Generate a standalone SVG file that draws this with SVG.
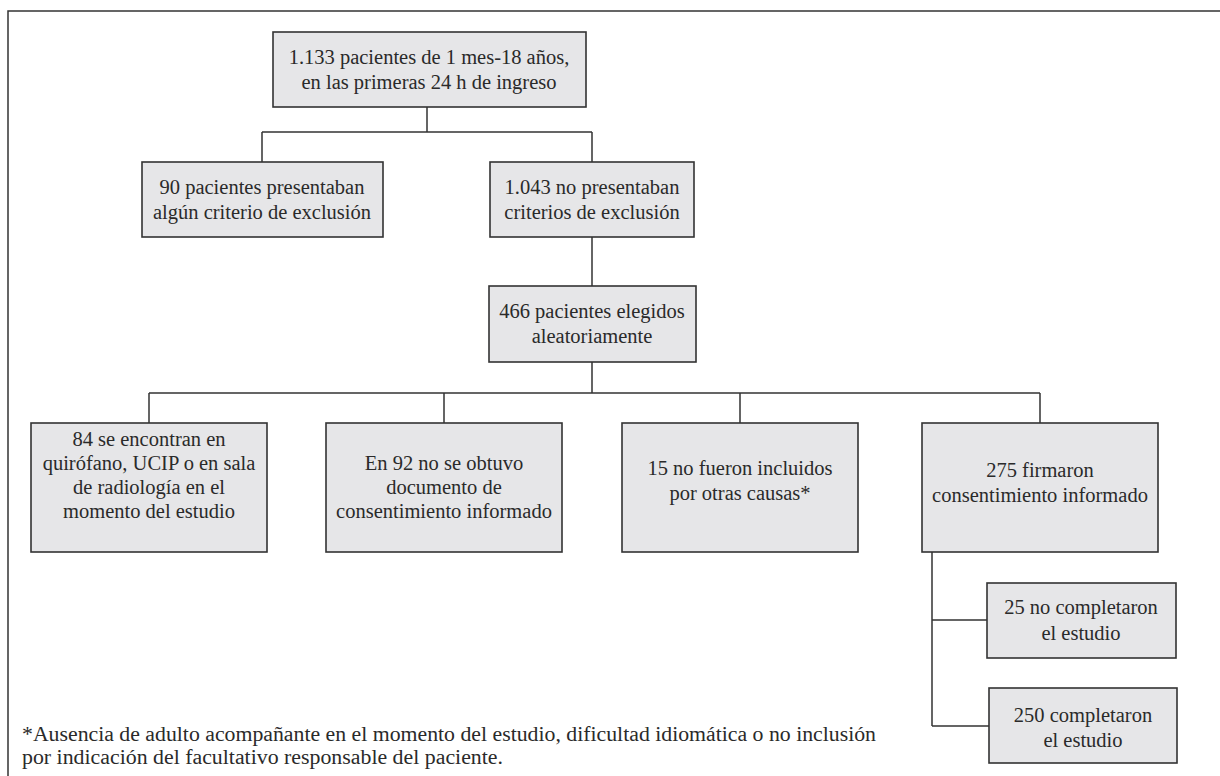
<svg xmlns="http://www.w3.org/2000/svg" width="1220" height="776" viewBox="0 0 1220 776">
<style>
.box{fill:#e6e6e8;stroke:#333;stroke-width:1.6}
.t{font-family:"Liberation Serif","Times New Roman",serif;font-size:20.5px;fill:#2a2a2a;text-anchor:middle}
.fn{font-family:"Liberation Serif","Times New Roman",serif;font-size:20.5px;fill:#2a2a2a}
.c{fill:none;stroke:#333;stroke-width:1.5}
</style>
<rect width="1220" height="776" fill="#fff"/>
<path d="M8,776 V11 H1220" fill="none" stroke="#333" stroke-width="1.5"/>
<g id="connectors">
<path class="c" d="M427,107 V132 M262,132 H592 M262,132 V162 M592,132 V162"/>
<path class="c" d="M592,237 V286"/>
<path class="c" d="M592,362 V393 M149,393 H1040 M149,393 V423 M444,393 V423 M740,393 V423 M1040,393 V423"/>
<path class="c" d="M932,552 V726 M932,620 H987 M932,726 H989"/>
</g>
<g id="n1"><rect class="box" x="273" y="32" width="313" height="75"/>
<text class="t" x="429" y="64">1.133 pacientes de 1 mes-18 años,</text>
<text class="t" x="429" y="89">en las primeras 24 h de ingreso</text></g>
<g id="n2"><rect class="box" x="142" y="162" width="241" height="75"/>
<text class="t" x="262" y="194">90 pacientes presentaban</text>
<text class="t" x="262" y="219">algún criterio de exclusión</text></g>
<g id="n3"><rect class="box" x="490" y="162" width="204" height="75"/>
<text class="t" x="592" y="194">1.043 no presentaban</text>
<text class="t" x="592" y="219">criterios de exclusión</text></g>
<g id="n4"><rect class="box" x="489" y="286" width="207" height="76"/>
<text class="t" x="592" y="318">466 pacientes elegidos</text>
<text class="t" x="592" y="343">aleatoriamente</text></g>
<g id="n5"><rect class="box" x="31" y="423" width="236" height="129"/>
<text class="t" x="149" y="446">84 se encontran en</text>
<text class="t" x="149" y="470">quirófano, UCIP o en sala</text>
<text class="t" x="149" y="494">de radiología en el</text>
<text class="t" x="149" y="518">momento del estudio</text></g>
<g id="n6"><rect class="box" x="326" y="423" width="236" height="129"/>
<text class="t" x="444" y="470">En 92 no se obtuvo</text>
<text class="t" x="444" y="494">documento de</text>
<text class="t" x="444" y="518">consentimiento informado</text></g>
<g id="n7"><rect class="box" x="622" y="423" width="236" height="129"/>
<text class="t" x="740" y="475">15 no fueron incluidos</text>
<text class="t" x="740" y="500">por otras causas*</text></g>
<g id="n8"><rect class="box" x="922" y="423" width="236" height="129"/>
<text class="t" x="1040" y="477">275 firmaron</text>
<text class="t" x="1040" y="502">consentimiento informado</text></g>
<g id="n9"><rect class="box" x="987" y="583" width="189" height="75"/>
<text class="t" x="1081" y="614">25 no completaron</text>
<text class="t" x="1081" y="640">el estudio</text></g>
<g id="n10"><rect class="box" x="989" y="688" width="188" height="75"/>
<text class="t" x="1083" y="722">250 completaron</text>
<text class="t" x="1083" y="747">el estudio</text></g>
<g id="footnote">
<text class="fn" x="22" y="741" textLength="854" lengthAdjust="spacingAndGlyphs">*Ausencia de adulto acompañante en el momento del estudio, dificultad idiomática o no inclusión</text>
<text class="fn" x="22" y="764" textLength="481" lengthAdjust="spacingAndGlyphs">por indicación del facultativo responsable del paciente.</text>
</g>
</svg>
